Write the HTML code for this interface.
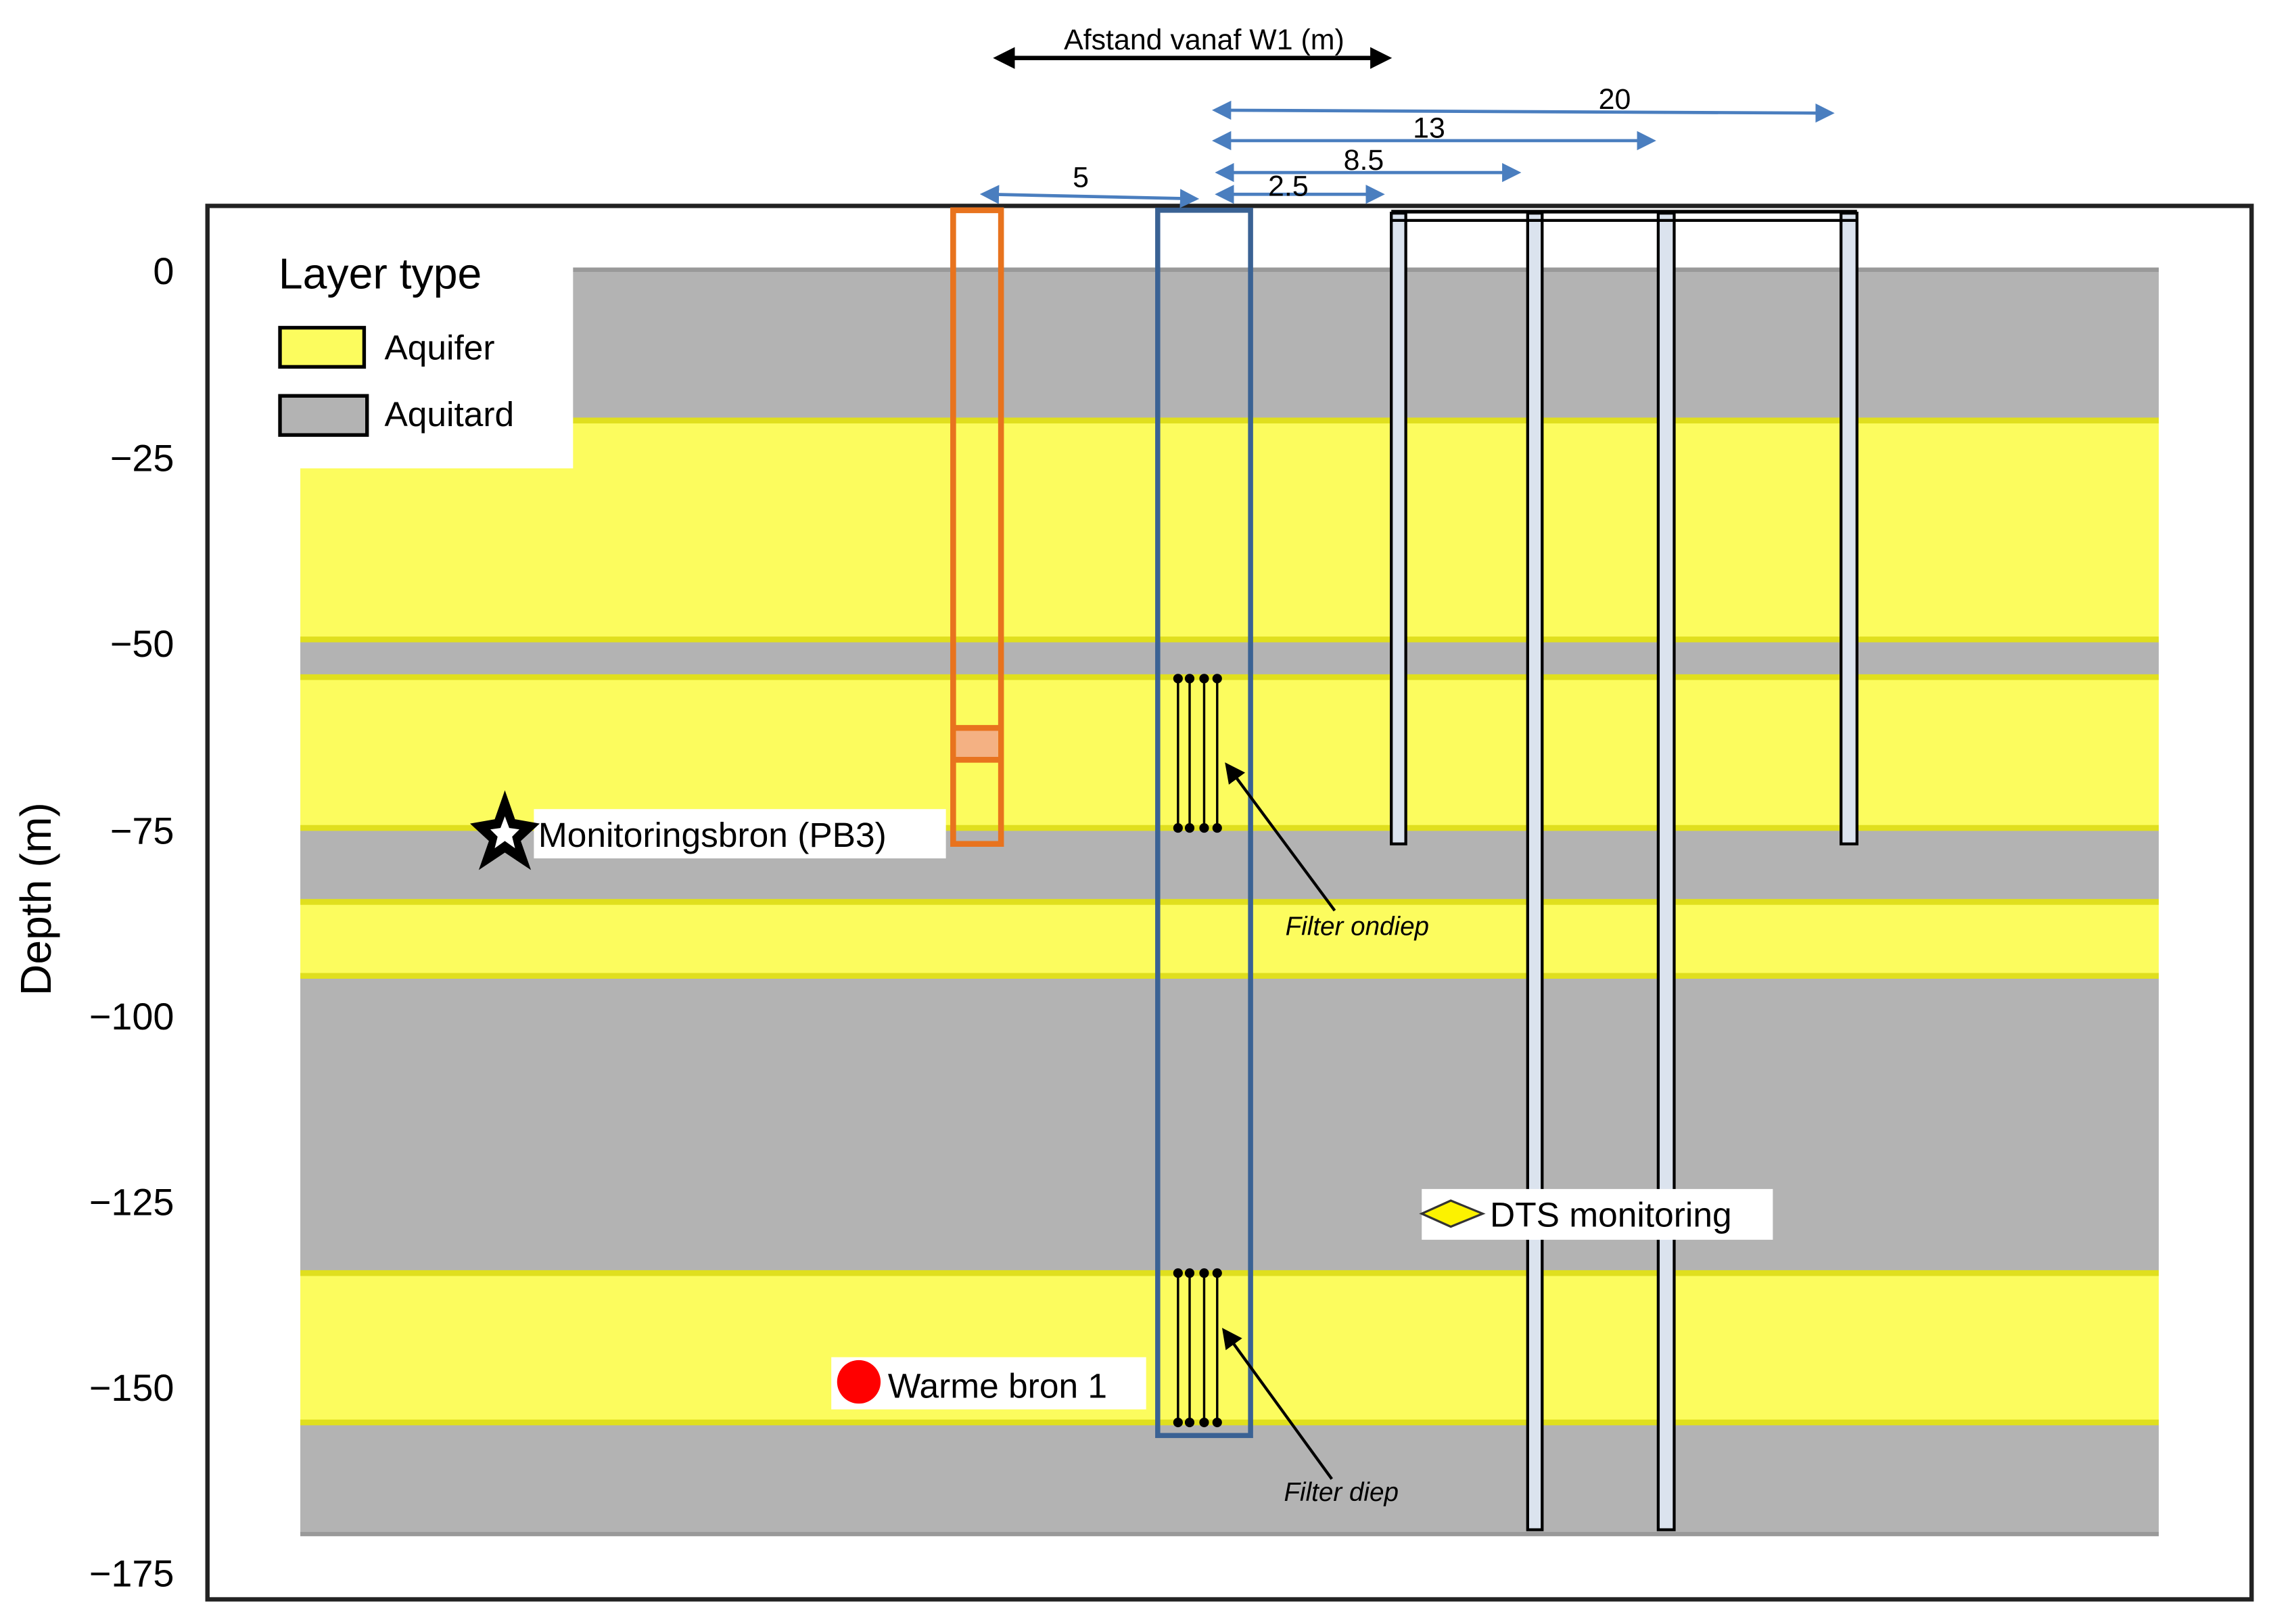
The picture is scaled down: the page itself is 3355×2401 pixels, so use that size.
<!DOCTYPE html>
<html><head><meta charset="utf-8"><style>
html,body{margin:0;padding:0;background:#fff;}
svg{display:block;}
text{font-family:"Liberation Sans",sans-serif;fill:#000;}
</style></head><body>
<svg width="3355" height="2401" viewBox="0 0 1564 1120" preserveAspectRatio="none" xmlns="http://www.w3.org/2000/svg">
<defs>
<marker id="bh" viewBox="0 0 10 10" refX="5" refY="5" markerWidth="6" markerHeight="8" orient="auto-start-reverse"><path d="M0,0 L10,5 L0,10 z" fill="#4a7ebf"/></marker>
<marker id="kh" viewBox="0 0 10 10" refX="5" refY="5" markerWidth="5" markerHeight="6" orient="auto-start-reverse"><path d="M0,0 L10,5 L0,10 z" fill="#000"/></marker>
<marker id="ka" viewBox="0 0 10 10" refX="8" refY="5" markerWidth="7" markerHeight="7" orient="auto"><path d="M0,0 L10,5 L0,10 z" fill="#000"/></marker>
</defs>
<rect x="207" y="185" width="1281" height="105" fill="#b3b3b3"/>
<rect x="207" y="290" width="1281" height="151" fill="#fcfc5e"/>
<rect x="207" y="441" width="1281" height="26" fill="#b3b3b3"/>
<rect x="207" y="467" width="1281" height="104" fill="#fcfc5e"/>
<rect x="207" y="571" width="1281" height="51" fill="#b3b3b3"/>
<rect x="207" y="622" width="1281" height="51" fill="#fcfc5e"/>
<rect x="207" y="673" width="1281" height="205" fill="#b3b3b3"/>
<rect x="207" y="878" width="1281" height="103" fill="#fcfc5e"/>
<rect x="207" y="981" width="1281" height="77" fill="#b3b3b3"/>
<g stroke="#e0df1e" stroke-width="4">
<line x1="207" y1="290" x2="1488" y2="290"/><line x1="207" y1="441" x2="1488" y2="441"/>
<line x1="207" y1="467" x2="1488" y2="467"/><line x1="207" y1="571" x2="1488" y2="571"/>
<line x1="207" y1="622" x2="1488" y2="622"/><line x1="207" y1="673" x2="1488" y2="673"/>
<line x1="207" y1="878" x2="1488" y2="878"/><line x1="207" y1="981" x2="1488" y2="981"/>
</g>
<line x1="207" y1="186" x2="1488" y2="186" stroke="#999" stroke-width="3"/>
<line x1="207" y1="1058" x2="1488" y2="1058" stroke="#999" stroke-width="3"/>
<rect x="143" y="142" width="1409" height="961" fill="none" stroke="#222" stroke-width="3"/>
<rect x="178" y="160" width="217" height="163" fill="#fff"/>
<text x="192" y="199" font-size="30">Layer type</text>
<rect x="193" y="226" width="58" height="27" fill="#fcfc5e" stroke="#000" stroke-width="2.5"/>
<rect x="193" y="273" width="60" height="27" fill="#b3b3b3" stroke="#000" stroke-width="2.5"/>
<text x="265" y="248" font-size="24">Aquifer</text>
<text x="265" y="294" font-size="24">Aquitard</text>
<g font-size="26" text-anchor="end">
<text x="120" y="196">0</text><text x="120" y="325">−25</text><text x="120" y="453">−50</text>
<text x="120" y="582">−75</text><text x="120" y="710">−100</text><text x="120" y="838">−125</text>
<text x="120" y="966">−150</text><text x="120" y="1094">−175</text>
</g>
<text transform="translate(35,620) rotate(-90)" font-size="30" text-anchor="middle">Depth (m)</text>
<g fill="#dbe3ee" stroke="#000" stroke-width="2">
<rect x="959" y="147" width="10" height="435"/>
<rect x="1053" y="147" width="10" height="908"/>
<rect x="1143" y="147" width="11" height="908"/>
<rect x="1269" y="147" width="11" height="435"/>
</g>
<line x1="959" y1="146" x2="1280" y2="146" stroke="#000" stroke-width="2.5"/>
<line x1="959" y1="152" x2="1280" y2="152" stroke="#000" stroke-width="2"/>
<rect x="657" y="145" width="33" height="437" fill="none" stroke="#e8731e" stroke-width="4"/>
<rect x="659" y="503" width="29" height="20" fill="#f4b183"/>
<line x1="657" y1="502" x2="690" y2="502" stroke="#e8731e" stroke-width="4"/>
<line x1="657" y1="524" x2="690" y2="524" stroke="#e8731e" stroke-width="4"/>
<rect x="798" y="145" width="64" height="845" fill="none" stroke="#3a6294" stroke-width="3.5"/>
<g stroke="#000" stroke-width="1.6" fill="#000">
<line x1="812" y1="468" x2="812" y2="571"/><line x1="820" y1="468" x2="820" y2="571"/>
<line x1="830" y1="468" x2="830" y2="571"/><line x1="839" y1="468" x2="839" y2="571"/>
<line x1="812" y1="878" x2="812" y2="981"/><line x1="820" y1="878" x2="820" y2="981"/>
<line x1="830" y1="878" x2="830" y2="981"/><line x1="839" y1="878" x2="839" y2="981"/>
<circle cx="812" cy="468" r="2.5"/><circle cx="820" cy="468" r="2.5"/><circle cx="830" cy="468" r="2.5"/><circle cx="839" cy="468" r="2.5"/>
<circle cx="812" cy="571" r="2.5"/><circle cx="820" cy="571" r="2.5"/><circle cx="830" cy="571" r="2.5"/><circle cx="839" cy="571" r="2.5"/>
<circle cx="812" cy="878" r="2.5"/><circle cx="820" cy="878" r="2.5"/><circle cx="830" cy="878" r="2.5"/><circle cx="839" cy="878" r="2.5"/>
<circle cx="812" cy="981" r="2.5"/><circle cx="820" cy="981" r="2.5"/><circle cx="830" cy="981" r="2.5"/><circle cx="839" cy="981" r="2.5"/>
</g>
<line x1="920" y1="628" x2="846" y2="528" stroke="#000" stroke-width="2" marker-end="url(#ka)"/>
<line x1="918" y1="1020" x2="844" y2="918" stroke="#000" stroke-width="2" marker-end="url(#ka)"/>
<text x="886" y="645" font-size="18" font-style="italic">Filter ondiep</text>
<text x="885" y="1035" font-size="18" font-style="italic">Filter diep</text>
<rect x="980" y="820" width="242" height="35" fill="#fff"/>
<polygon points="980,837 1000,828 1022,837 1000,846" fill="#fcf200" stroke="#333" stroke-width="1.5"/>
<text x="1027" y="846" font-size="24">DTS monitoring</text>
<rect x="573" y="936" width="217" height="36" fill="#fff"/>
<circle cx="592" cy="953" r="15" fill="#f00"/>
<text x="612" y="964" font-size="24">Warme bron 1</text>
<rect x="368" y="558" width="284" height="34" fill="#fff"/>
<polygon points="348,545 355,565 372,568 359,580 366,600 348,588 330,600 337,580 324,568 341,565" fill="#000"/>
<polygon points="348,563 351,571 358,572 353,577 355,585 348,580 341,585 343,577 338,572 345,571" fill="#fff"/>
<text x="371" y="584" font-size="24">Monitoringsbron (PB3)</text>
<text x="830" y="34" font-size="20" text-anchor="middle">Afstand vanaf W1 (m)</text>
<line x1="692" y1="40" x2="952" y2="40" stroke="#000" stroke-width="3" marker-start="url(#kh)" marker-end="url(#kh)"/>
<g stroke="#4a7ebf" stroke-width="2.2">
<line x1="842" y1="76" x2="1258" y2="78" marker-start="url(#bh)" marker-end="url(#bh)"/>
<line x1="842" y1="97" x2="1135" y2="97" marker-start="url(#bh)" marker-end="url(#bh)"/>
<line x1="844" y1="119" x2="1042" y2="119" marker-start="url(#bh)" marker-end="url(#bh)"/>
<line x1="844" y1="134" x2="948" y2="134" marker-start="url(#bh)" marker-end="url(#bh)"/>
<line x1="682" y1="134" x2="820" y2="137" marker-start="url(#bh)" marker-end="url(#bh)"/>
</g>
<g font-size="20" text-anchor="middle">
<text x="1113" y="75">20</text><text x="985" y="95">13</text><text x="940" y="117">8.5</text>
<text x="888" y="135">2.5</text><text x="745" y="129">5</text>
</g>
</svg>
</body></html>
